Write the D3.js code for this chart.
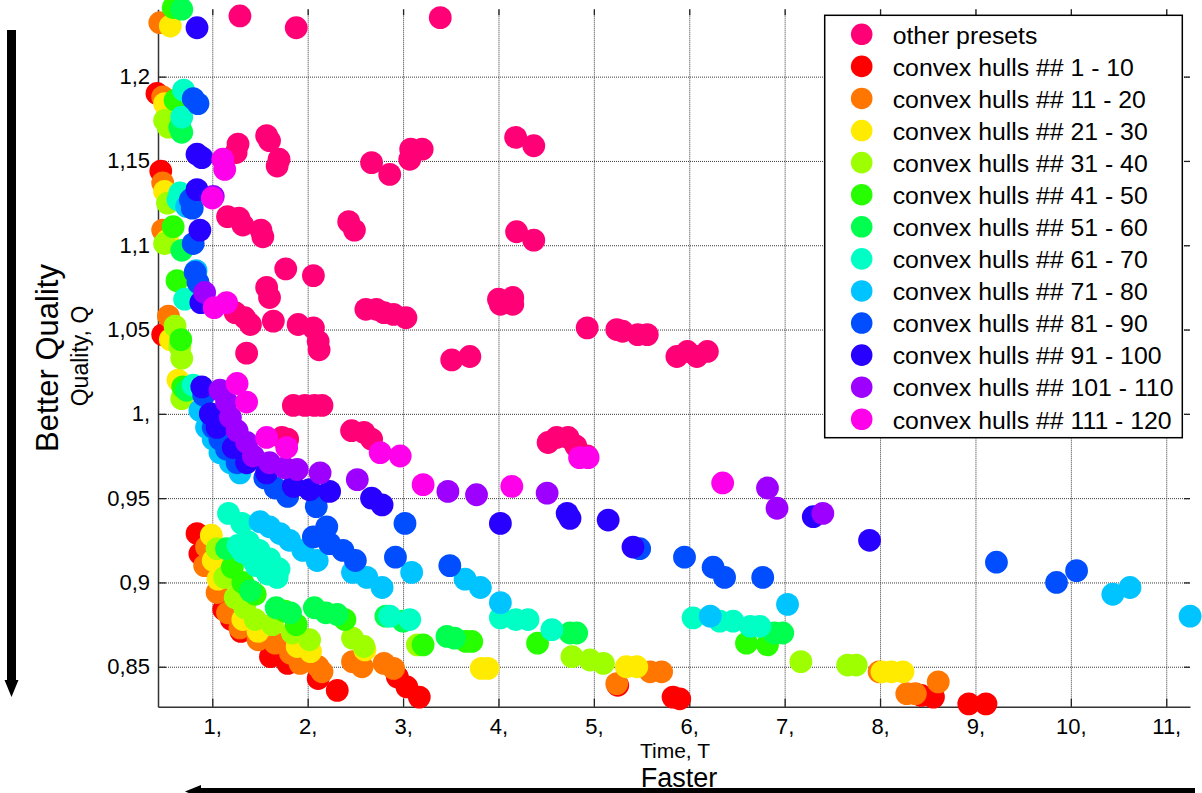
<!DOCTYPE html>
<html>
<head>
<meta charset="utf-8">
<script src="https://cdn.jsdelivr.net/npm/d3@7"></script>
<style>
  html, body { margin: 0; padding: 0; background: #fff; }
  svg { display: block; font-family: "Liberation Sans", Arial, Helvetica, sans-serif; }
</style>
</head>
<body>
<svg id="chart" width="1202" height="793"></svg>
<script>
// Time / quality pairs for every preset, grouped by convex-hull index.
const otherPresets = [
  [1.29,1.236],[1.88,1.229],[3.39,1.235],[1.27,1.160],[1.25,1.155],[1.57,1.165],[1.60,1.162],
  [1.70,1.151],[1.68,1.147],[2.67,1.149],[2.86,1.142],[3.08,1.157],[3.20,1.157],[3.07,1.151],
  [4.18,1.164],[4.37,1.159],[1.16,1.117],[1.28,1.116],[1.32,1.112],[1.51,1.109],[1.53,1.105],
  [2.43,1.114],[2.49,1.109],[4.19,1.108],[4.37,1.103],[1.77,1.086],[2.06,1.082],[1.57,1.075],
  [1.60,1.069],[1.64,1.055],[1.90,1.053],[2.06,1.051],[2.11,1.043],[2.12,1.038],[1.36,1.036],
  [1.24,1.060],[1.34,1.057],[1.40,1.053],[2.61,1.062],[2.72,1.062],[2.80,1.060],[2.90,1.059],
  [3.03,1.057],[4.00,1.068],[4.15,1.069],[4.02,1.065],[4.15,1.065],[3.51,1.032],[3.70,1.034],
  [4.93,1.051],[5.24,1.050],[5.30,1.049],[5.46,1.047],[5.56,1.047],[5.87,1.034],[5.98,1.037],
  [6.08,1.034],[6.19,1.037],[1.85,1.005],[1.97,1.005],[2.07,1.005],[2.15,1.005],[2.46,0.990],
  [2.59,0.989],[2.67,0.985],[4.52,0.983],[4.61,0.986],[4.73,0.986],[4.81,0.981],[4.93,0.975],
  [1.73,0.986],[1.79,0.985]
];
const hulls001to010 = [
  [0.42,1.190],[0.46,1.144],[0.48,1.047],[0.84,0.929],[0.87,0.917],[1.12,0.884],[1.20,0.878],
  [1.30,0.871],[1.61,0.856],[1.79,0.852],[2.11,0.843],[2.31,0.836],[2.94,0.844],[3.04,0.838],
  [3.17,0.832],[5.25,0.839],[5.83,0.832],[5.90,0.831],[8.43,0.833],[8.56,0.832],[8.93,0.828],
  [9.11,0.828]
];
const hulls011to020 = [
  [0.45,1.232],[0.48,1.188],[0.48,1.137],[0.48,1.109],[0.54,1.058],[0.94,0.921],[0.92,0.910],
  [1.05,0.894],[1.16,0.882],[1.29,0.873],[1.48,0.866],[1.66,0.864],[1.82,0.858],[1.92,0.852],
  [2.11,0.850],[2.15,0.847],[2.47,0.853],[2.57,0.850],[2.80,0.852],[2.90,0.849],[5.24,0.840],
  [5.59,0.847],[5.71,0.847],[7.99,0.847],[8.28,0.834],[8.37,0.834],[8.61,0.841]
];
const hulls021to030 = [
  [0.56,1.230],[0.50,1.184],[0.53,1.178],[0.50,1.132],[0.53,1.103],[0.56,1.044],[0.64,1.020],
  [0.99,0.928],[1.01,0.913],[1.06,0.902],[1.32,0.878],[1.48,0.871],[1.89,0.862],[2.03,0.859],
  [2.60,0.860],[3.82,0.849],[3.89,0.849],[5.34,0.850],[5.45,0.850],[8.02,0.847],[8.12,0.847],
  [8.24,0.847]
];
const hulls031to040 = [
  [0.50,1.174],[0.54,1.170],[0.53,1.125],[0.50,1.101],[0.61,1.052],[0.66,1.040],[0.68,1.033],
  [0.68,1.009],[1.05,0.920],[1.13,0.903],[1.24,0.891],[1.34,0.885],[1.45,0.878],[1.63,0.875],
  [1.84,0.870],[2.02,0.866],[2.47,0.867],[2.59,0.862],[3.15,0.863],[4.77,0.856],[4.96,0.854],
  [5.10,0.852],[7.17,0.853],[7.66,0.851],[7.75,0.851]
];
const hulls041to050 = [
  [0.59,1.241],[0.61,1.186],[0.59,1.111],[0.63,1.079],[0.67,1.044],[0.69,1.016],[1.21,0.909],
  [1.32,0.900],[1.45,0.893],[1.76,0.883],[1.88,0.875],[2.39,0.878],[3.21,0.863],[3.66,0.865],
  [3.72,0.865],[4.41,0.864],[6.60,0.864],[6.82,0.863]
];
const hulls051to060 = [
  [0.68,1.240],[0.66,1.170],[0.68,1.167],[0.68,1.097],[0.73,1.014],[1.15,0.920],[1.40,0.895],
  [1.67,0.885],[1.82,0.882],[2.07,0.885],[2.19,0.882],[2.31,0.881],[2.82,0.880],[3.00,0.877],
  [3.46,0.868],[3.54,0.867],[4.75,0.870],[4.82,0.870],[6.89,0.870],[6.98,0.870]
];
const hulls061to070 = [
  [0.70,1.192],[0.68,1.176],[0.66,1.131],[0.64,1.127],[0.71,1.068],[0.80,1.017],[1.17,0.941],
  [1.31,0.935],[1.27,0.922],[1.32,0.918],[1.43,0.913],[1.55,0.909],[1.68,0.903],[1.38,0.924],
  [1.49,0.919],[1.60,0.914],[1.70,0.908],[1.46,0.910],[1.58,0.905],[2.86,0.880],
  [3.07,0.878],[4.02,0.879],[4.18,0.878],[4.31,0.878],[4.56,0.872],[6.04,0.879],[6.32,0.877],
  [6.46,0.877],[6.64,0.874],[6.74,0.874]
];
const hulls071to080 = [
  [0.73,1.123],[0.83,1.085],[0.87,1.002],[0.94,0.992],[1.01,0.985],[1.08,0.977],[1.19,0.971],
  [1.29,0.965],[1.50,0.936],[1.60,0.933],[1.71,0.929],[1.81,0.925],[1.95,0.919],[2.10,0.913],
  [2.47,0.906],[2.62,0.903],[2.78,0.897],[3.09,0.906],[3.65,0.902],[3.81,0.897],[4.02,0.888],
  [6.22,0.880],[7.03,0.887],[10.44,0.893],[10.62,0.897],[11.25,0.880]
];
const hulls081to090 = [
  [0.80,1.187],[0.85,1.184],[0.77,1.127],[0.79,1.122],[0.80,1.101],[0.82,1.084],[0.85,1.078],
  [0.91,1.011],[0.98,1.000],[1.01,0.992],[1.08,0.985],[1.15,0.979],[1.26,0.971],[1.55,0.962],
  [1.66,0.956],[1.79,0.951],[2.09,0.945],[2.06,0.927],[2.20,0.933],[2.23,0.923],[2.37,0.919],
  [2.50,0.913],[2.92,0.915],[3.02,0.935],[3.49,0.910],[5.48,0.920],[5.95,0.915],[6.25,0.909],
  [6.37,0.903],[6.77,0.903],[9.22,0.912],[9.85,0.900],[10.06,0.907]
];
const hulls091to100 = [
  [0.84,1.229],[0.84,1.154],[0.89,1.152],[0.84,1.133],[0.87,1.109],[0.88,1.066],[0.89,1.016],
  [0.98,1.000],[1.05,0.992],[1.22,0.980],[1.36,0.971],[1.57,0.965],[1.85,0.957],[2.02,0.955],
  [2.23,0.954],[2.67,0.950],[2.78,0.946],[4.02,0.935],[4.72,0.941],[4.75,0.938],[5.15,0.937],
  [5.41,0.921],[7.30,0.939],[7.89,0.925]
];
const hulls101to110 = [
  [1.01,1.129],[0.92,1.072],[1.08,1.014],[1.15,1.007],[1.19,0.998],[1.26,0.990],[1.36,0.983],
  [1.43,0.975],[1.60,0.971],[1.76,0.968],[1.89,0.967],[2.13,0.965],[2.52,0.961],[3.47,0.954],
  [3.77,0.952],[4.51,0.953],[6.82,0.956],[6.92,0.944],[7.40,0.941]
];
const hulls111to120 = [
  [1.11,1.151],[1.13,1.145],[1.00,1.128],[1.02,1.063],[1.15,1.066],[1.26,1.018],[1.36,1.007],
  [1.57,0.986],[1.78,0.980],[2.76,0.977],[2.97,0.975],[3.21,0.958],[4.14,0.957],[4.85,0.974],
  [4.94,0.974],[6.35,0.959]
];

const seriesNames = [
  "other presets",
  "convex hulls ## 1 - 10", "convex hulls ## 11 - 20", "convex hulls ## 21 - 30",
  "convex hulls ## 31 - 40", "convex hulls ## 41 - 50", "convex hulls ## 51 - 60",
  "convex hulls ## 61 - 70", "convex hulls ## 71 - 80", "convex hulls ## 81 - 90",
  "convex hulls ## 91 - 100", "convex hulls ## 101 - 110", "convex hulls ## 111 - 120"
];
const seriesColors = [
  "#ff0076", "#ff0000", "#ff7600", "#ffeb00", "#9dff00", "#27ff00", "#00ff4e",
  "#00ffc4", "#00c4ff", "#004eff", "#2700ff", "#9d00ff", "#ff00eb"
];
const seriesData = [
  otherPresets, hulls001to010, hulls011to020, hulls021to030, hulls031to040, hulls041to050,
  hulls051to060, hulls061to070, hulls071to080, hulls081to090, hulls091to100,
  hulls101to110, hulls111to120
];

const xTickValues = [1, 2, 3, 4, 5, 6, 7, 8, 9, 10, 11];
const xTickLabels = ["1,", "2,", "3,", "4,", "5,", "6,", "7,", "8,", "9,", "10,", "11,"];
const yTickValues = [0.85, 0.9, 0.95, 1.0, 1.05, 1.1, 1.15, 1.2];
const yTickLabels = ["0,85", "0,9", "0,95", "1,", "1,05", "1,1", "1,15", "1,2"];

const plot = { left: 158, right: 1190, top: 9.3, bottom: 706.7 };
const FONT = '"Liberation Sans", Arial, Helvetica, sans-serif';

const svg = d3.select("#chart");

const x = d3.scaleLinear().domain([0.431, 11.249]).range([plot.left, plot.right]);
const y = d3.scaleLinear().domain([0.8263, 1.23994]).range([plot.bottom, plot.top]);

// dotted grid
const grid = svg.append("g");
grid.append("g")
  .attr("transform", `translate(0,${plot.bottom})`)
  .call(d3.axisBottom(x).tickValues(xTickValues).tickSize(-(plot.bottom - plot.top)).tickFormat(""))
  .call(g => g.select(".domain").remove());
grid.append("g")
  .attr("transform", `translate(${plot.left},0)`)
  .call(d3.axisLeft(y).tickValues(yTickValues).tickSize(-(plot.right - plot.left)).tickFormat(""))
  .call(g => g.select(".domain").remove());
grid.selectAll("line")
  .attr("stroke", "#3a3a3a")
  .attr("stroke-width", 1)
  .attr("stroke-dasharray", "1,1");

// axes with inward ticks
const xAxis = svg.append("g")
  .attr("transform", `translate(0,${plot.bottom})`)
  .call(d3.axisBottom(x).tickValues(xTickValues).tickFormat((d, i) => xTickLabels[i])
    .tickSizeInner(-8).tickSizeOuter(0).tickPadding(12));
const yAxis = svg.append("g")
  .attr("transform", `translate(${plot.left},0)`)
  .call(d3.axisLeft(y).tickValues(yTickValues).tickFormat((d, i) => yTickLabels[i])
    .tickSizeInner(-8).tickSizeOuter(0).tickPadding(8));
const xTop = svg.append("g")
  .attr("transform", `translate(0,${plot.top})`)
  .call(d3.axisTop(x).tickValues(xTickValues).tickFormat("").tickSizeInner(-6).tickSizeOuter(0))
  .call(g => g.select(".domain").remove());
const yRight = svg.append("g")
  .attr("transform", `translate(${plot.right},0)`)
  .call(d3.axisRight(y).tickValues(yTickValues).tickFormat("").tickSizeInner(-6).tickSizeOuter(0))
  .call(g => g.select(".domain").remove());

[xAxis, yAxis, xTop, yRight].forEach(g => {
  g.selectAll(".domain").attr("stroke", "#333").attr("stroke-width", 1.5);
  g.selectAll(".tick line").attr("stroke", "#222").attr("stroke-width", 1.3);
  g.selectAll(".tick text")
    .attr("fill", "#000")
    .style("font-family", FONT)
    .style("font-size", "22px");
});

// markers, later groups on top
const R = 11.4;
seriesData.forEach((pts, i) => {
  svg.append("g")
    .selectAll("circle")
    .data(pts)
    .join("circle")
    .attr("cx", d => x(d[0]))
    .attr("cy", d => y(d[1]))
    .attr("r", R)
    .attr("fill", seriesColors[i]);
});

// legend
const legend = svg.append("g");
legend.append("rect")
  .attr("x", 824.7).attr("y", 15.3)
  .attr("width", 357.6).attr("height", 422.4)
  .attr("fill", "#fff").attr("stroke", "#000").attr("stroke-width", 1.5);
const rowH = 32.08;
const rows = legend.selectAll("g.row")
  .data(seriesNames)
  .join("g")
  .attr("class", "row")
  .attr("transform", (d, i) => `translate(0,${34.3 + i * rowH})`);
rows.append("circle")
  .attr("cx", 861.7).attr("cy", 0).attr("r", 10.8)
  .attr("fill", (d, i) => seriesColors[i]);
rows.append("text")
  .attr("x", 892.7).attr("y", 9.3)
  .style("font-family", FONT).style("font-size", "24.8px")
  .attr("fill", "#000")
  .text(d => d);

// axis titles
svg.append("text")
  .attr("x", 675).attr("y", 758)
  .attr("text-anchor", "middle")
  .style("font-family", FONT).style("font-size", "21px")
  .text("Time, T");
svg.append("text")
  .attr("transform", "translate(88,356) rotate(-90)")
  .attr("text-anchor", "middle")
  .style("font-family", FONT).style("font-size", "23px")
  .text("Quality, Q");

// direction hints
svg.append("text")
  .attr("transform", "translate(58,358) rotate(-90)")
  .attr("text-anchor", "middle")
  .style("font-family", FONT).style("font-size", "31px")
  .text("Better Quality");
svg.append("text")
  .attr("x", 679).attr("y", 786.5)
  .attr("text-anchor", "middle")
  .style("font-family", FONT).style("font-size", "27px")
  .text("Faster");

const arrows = svg.append("g").attr("fill", "#000");
arrows.append("rect").attr("x", 7).attr("y", 30).attr("width", 9).attr("height", 652);
arrows.append("path").attr("d", "M4.5,680 L18.5,680 L11.5,697 Z");
arrows.append("rect").attr("x", 198).attr("y", 788).attr("width", 997).attr("height", 10);
arrows.append("path").attr("d", "M185,791.5 L201,785 L201,798 Z");
</script>
</body>
</html>
